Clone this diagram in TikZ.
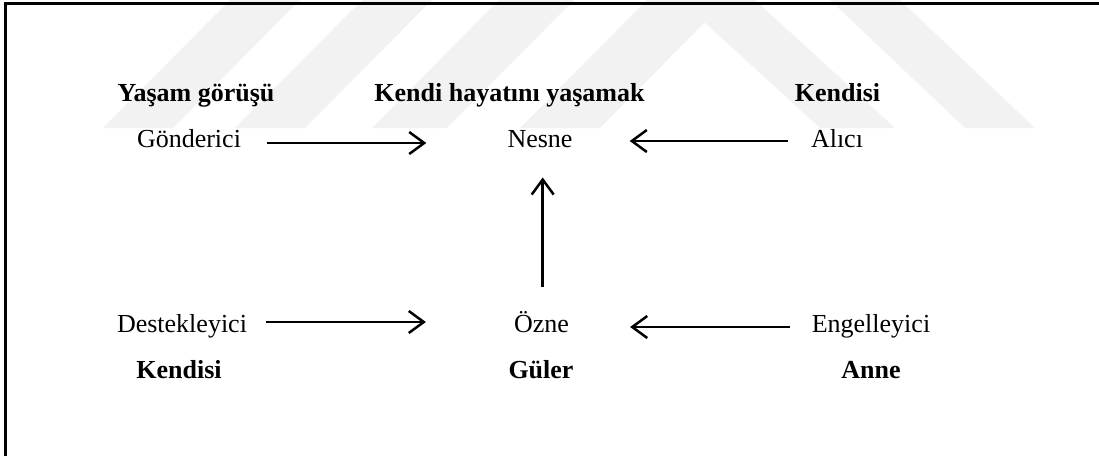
\documentclass[tikz,border=0pt]{standalone}
\usepackage{fontspec}
\setmainfont{Liberation Serif}
\usetikzlibrary{arrows.meta}
\begin{document}
\begin{tikzpicture}[x=1pt,y=-1pt,
  lbl/.style={inner sep=0pt, anchor=base, font=\fontsize{26}{30}\selectfont},
  bl/.style={inner sep=0pt, anchor=base, font=\fontsize{26}{30}\selectfont\bfseries},
  arr/.style={line width=2.5pt, -{Straight Barb[length=15pt,width=22pt,line width=2.5pt]}},
  wm/.style={fill=black!5, draw=none}]
\useasboundingbox (0,0) rectangle (1099,456);
% watermark stripes
\fill[wm] (103,128) -- (173,128) -- (300,0) -- (230,0) -- cycle;
\fill[wm] (235,128) -- (305,128) -- (432,0) -- (362,0) -- cycle;
\fill[wm] (372,128) -- (447,128) -- (574,0) -- (499,0) -- cycle;
\fill[wm] (520,128) -- (600,128) -- (727,0) -- (647,0) -- cycle;
\fill[wm] (680,0) -- (755,0) -- (895,128) -- (820,128) -- cycle;
\fill[wm] (830,0) -- (900,0) -- (1035,128) -- (965,128) -- cycle;
% border
\draw[line width=3pt] (5.5,456) -- (5.5,3) -- (1099,3);
% labels
\node[bl] (yg) at (196,101) {Yaşam görüşü};
\node[bl] (kh) at (509.5,101) {Kendi hayatını yaşamak};
\node[bl] (k1) at (837.5,101) {Kendisi};
\node[lbl] (gond) at (189,147.5) {Gönderici};
\node[lbl] (nesne) at (540,147.5) {Nesne};
\node[lbl] (alici) at (837,147.5) {Alıcı};
\node[lbl] (dest) at (182,332) {Destekleyici};
\node[lbl] (ozne) at (541.5,332) {Özne};
\node[lbl] (eng) at (871,332) {Engelleyici};
\node[bl] (k2) at (179,378) {Kendisi};
\node[bl] (guler) at (541,378) {Güler};
\node[bl] (anne) at (871,378) {Anne};
% arrows
\coordinate (a1s) at ([yshift=4.5pt]gond.base east);
\draw[arr, shorten <=26pt, shorten >=81pt] (a1s) -- (a1s -| nesne.west);
\coordinate (a2s) at ([yshift=6.5pt]alici.base west);
\draw[arr, shorten <=23pt, shorten >=57pt] (a2s) -- (a2s -| nesne.east);
\coordinate (v) at ([xshift=1.2pt]ozne.north);
\draw[arr, shorten <=23.6pt, shorten >=29.5pt] (v) -- (v |- nesne.south);
\coordinate (a4s) at ([yshift=10pt]dest.base east);
\draw[arr, shorten <=19pt, shorten >=88pt] (a4s) -- (a4s -| ozne.west);
\coordinate (a5s) at ([yshift=5pt]eng.base west);
\draw[arr, shorten <=22pt, shorten >=61pt] (a5s) -- (a5s -| ozne.east);
\end{tikzpicture}
\end{document}
